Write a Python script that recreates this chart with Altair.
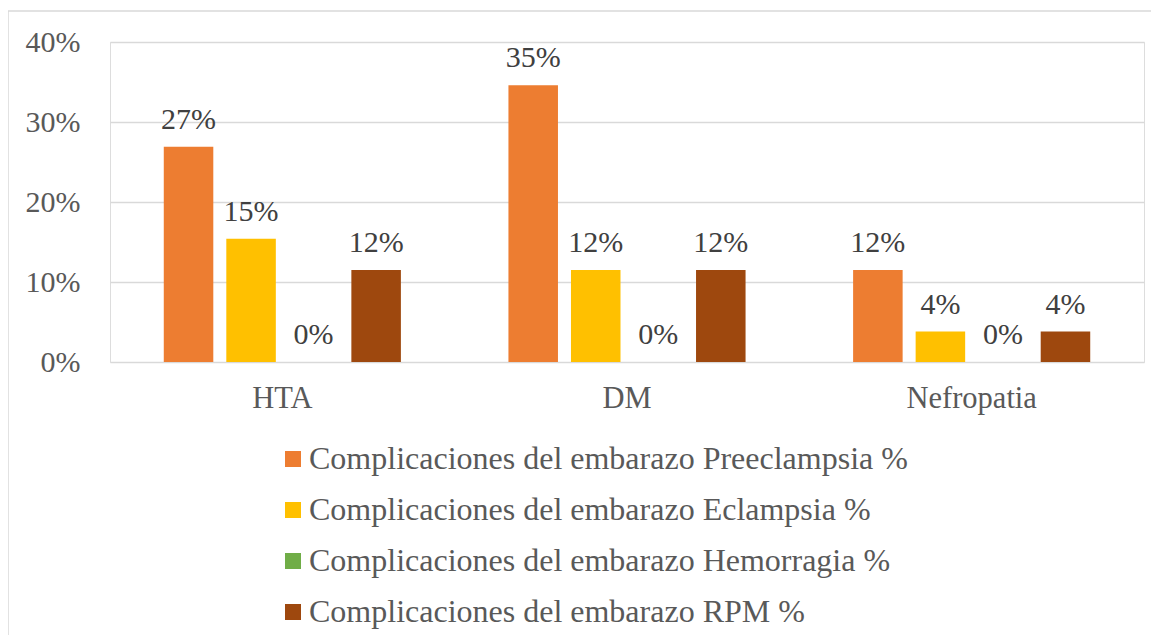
import altair as alt
import pandas as pd

categories = ["HTA", "DM", "Nefropatia"]
series = [
    "Complicaciones del embarazo Preeclampsia %",
    "Complicaciones del embarazo Eclampsia %",
    "Complicaciones del embarazo Hemorragia %",
    "Complicaciones del embarazo RPM %",
]
preeclampsia = [0.269, 0.346, 0.115]
eclampsia = [0.154, 0.115, 0.038]
hemorragia = [0.0, 0.0, 0.0]
rpm = [0.115, 0.115, 0.038]
colors = ["#ED7D31", "#FFC000", "#70AD47", "#9E480E"]

rows = []
for s, vals in zip(series, [preeclampsia, eclampsia, hemorragia, rpm]):
    for c, v in zip(categories, vals):
        rows.append({"cat": c, "serie": s, "val": v})
df = pd.DataFrame(rows)

FONT = "Liberation Serif"
TXT = "#595959"

base = alt.Chart(df).encode(
    x=alt.X("cat:N", sort=categories, title=None,
            scale=alt.Scale(paddingInner=0, paddingOuter=0),
            axis=alt.Axis(labelFont=FONT, labelFontSize=30.5, labelColor=TXT,
                          labelPadding=21, ticks=False, domain=False, labelAngle=0)),
    xOffset=alt.XOffset("serie:N", sort=series,
                        scale=alt.Scale(paddingInner=0.208, paddingOuter=0.86)),
)

bars = base.mark_bar().encode(
    y=alt.Y("val:Q", title=None,
            scale=alt.Scale(domain=[0, 0.4]),
            axis=alt.Axis(values=[0, 0.1, 0.2, 0.3, 0.4], format=".0%",
                          labelFont=FONT, labelFontSize=30, labelColor=TXT,
                          labelPadding=30, ticks=False, domain=False,
                          gridColor="#d9d9d9", gridWidth=1.3)),
    color=alt.Color("serie:N", sort=series,
                    scale=alt.Scale(domain=series, range=colors),
                    legend=alt.Legend(orient="none", legendX=167, legendY=401,
                                      direction="vertical", title=None,
                                      symbolType="square", symbolSize=256,
                                      symbolStrokeWidth=0, labelFont=FONT,
                                      labelFontSize=32, labelColor=TXT,
                                      labelOffset=0, rowPadding=19, padding=0,
                                      labelLimit=1000)),
)

labels = base.mark_text(font=FONT, fontSize=30, color="#404040",
                        baseline="alphabetic", dy=-18).encode(
    y=alt.Y("val:Q"),
    text=alt.Text("val:Q", format=".0%"),
)

frame = alt.Chart(pd.DataFrame({"a": [0]}))
left_border = frame.mark_rule(color="#d9d9d9", strokeWidth=1.5).encode(
    x=alt.value(-102), y=alt.value(-31), y2=alt.value(700))
top_border = frame.mark_rule(color="#d9d9d9", strokeWidth=1.5).encode(
    x=alt.value(-102), x2=alt.value(1100), y=alt.value(-31))

chart = alt.layer(bars, labels, left_border, top_border).properties(
    width=1034, height=320,
    padding={"left": 102, "top": 34, "right": 7, "bottom": 273},
    autosize=alt.AutoSizeParams(type="none"),
).configure_view(stroke=None).configure(background="white")

chart.save("out.html", embed_options={"renderer": "svg", "actions": False})
